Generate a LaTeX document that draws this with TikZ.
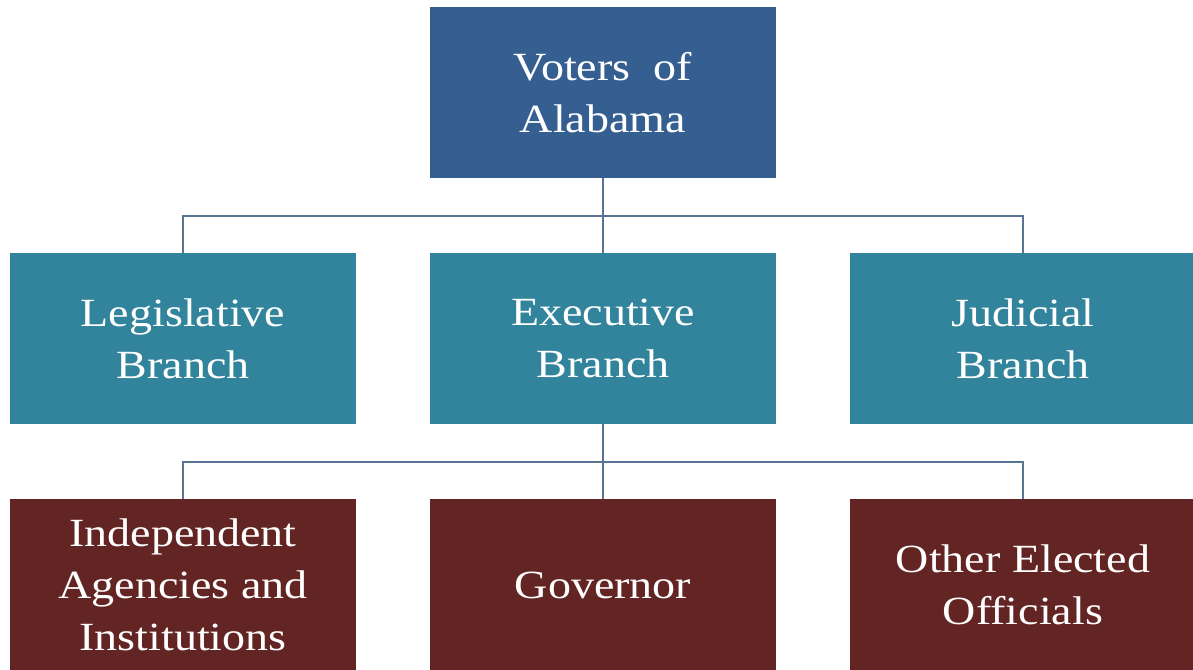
\documentclass[tikz,border=0pt]{standalone}
\usepackage{fontspec}
\setmainfont{Liberation Serif}[FakeStretch=1.15]
\definecolor{topblue}{HTML}{365F91}
\definecolor{teal}{HTML}{31849B}
\definecolor{darkred}{HTML}{632523}
\definecolor{linec}{HTML}{587493}
\tikzset{
  boxbase/.style={rectangle, minimum width=346pt, minimum height=171pt, inner sep=0pt,
    text=white, align=center, font=\fontsize{40pt}{52pt}\selectfont},
  voterbox/.style={boxbase, fill=topblue},
  branchbox/.style={boxbase, fill=teal},
  officebox/.style={boxbase, fill=darkred},
  conn/.style={draw=linec, line width=1.6pt}
}
\begin{document}
\begin{tikzpicture}[x=1pt,y=1pt]
\useasboundingbox (0,0) rectangle (1193,669);
\clip (0,0) rectangle (1193,669);
\node[voterbox] (voters) at (603,576.5) {Voters\hspace{0.3em} of\\Alabama};
\node[branchbox] (leg) at (183,330.5) {Legislative\\Branch};
\node[branchbox] (exec) at (603,330.5) {Executive\\Branch};
\node[branchbox] (jud) at (1023,330.5) {Judicial\\Branch};
\node[officebox] (ind) at (183,84) {Independent\\Agencies and\\Institutions};
\node[officebox] (gov) at (603,84) {Governor};
\node[officebox] (other) at (1023,84) {Other Elected\\Officials};
\coordinate (b1) at (603,453);
\coordinate (b2) at (603,207);
\draw[conn] (voters.south) -- (exec.north);
\draw[conn] (leg.north) |- (b1) -| (jud.north);
\draw[conn] (exec.south) -- (gov.north);
\draw[conn] (ind.north) |- (b2) -| (other.north);
\end{tikzpicture}
\end{document}
